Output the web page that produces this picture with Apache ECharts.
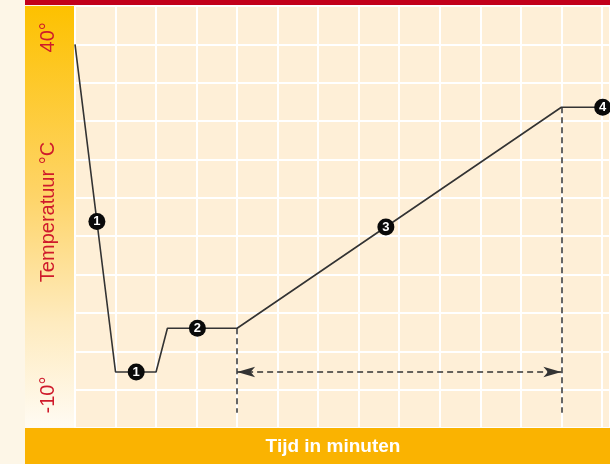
<!DOCTYPE html>
<html>
<head>
<meta charset="utf-8">
<script src="https://cdn.jsdelivr.net/npm/echarts@6/dist/echarts.min.js"></script>
<style>
  html, body { margin: 0; padding: 0; background: #fdf6e7; }
  #chart { width: 610px; height: 464px; }
</style>
</head>
<body>
<div id="chart"></div>
<script>
// Temperature curve (time in minutes, temperature in °C)
const curveTime = [0, 1, 2, 2.28, 4, 12, 13.2];
const curveTemp = [40, -2.7, -2.7, 3, 3, 31.8, 31.8];

// Numbered step markers along the curve
const stepNames = ['1', '1', '2', '3', '4'];
const stepTime = [0.54, 1.51, 3.02, 7.67, 13.02];
const stepTemp = [16.9, -2.7, 3, 16.2, 31.8];

// Dashed guides marking the heating phase and its duration arrow
const guideTime = [4, 12];
const guideTop = [3, 31.8];
const guideBottom = -8;
const arrowTemp = -2.7;

// Axis texts
const yTickValues = [40, -10];
const yTickLabels = ['40°', '-10°'];
const yAxisTitle = 'Temperatuur °C';
const xAxisTitle = 'Tijd in minuten';

const FONT = "'Liberation Sans', Arial, Helvetica, sans-serif";
const RED = '#cf1a2b';
const INK = '#333333';

const chart = echarts.init(document.getElementById('chart'), null, { renderer: 'canvas' });

const curveData = curveTime.map((t, i) => [t, curveTemp[i]]);
const stepData = stepTime.map((t, i) => ({ name: stepNames[i], value: [t, stepTemp[i]] }));

const dashed = { color: INK, width: 1.5, type: [6, 4] };

const option = {
  backgroundColor: '#fdf6e7',
  animation: false,
  grid: {
    left: 75, right: 0, top: 6, bottom: 36,
    show: true, backgroundColor: '#feefd7', borderWidth: 0
  },
  xAxis: {
    type: 'value', min: 0, max: 13.2, interval: 1,
    axisLine: { show: false }, axisTick: { show: false }, axisLabel: { show: false },
    splitLine: { show: true, lineStyle: { color: '#ffffff', width: 2 } }
  },
  yAxis: {
    type: 'value', min: -10, max: 45, interval: 5,
    axisLine: { show: false }, axisTick: { show: false }, axisLabel: { show: false },
    splitLine: { show: true, lineStyle: { color: '#ffffff', width: 2 } }
  },
  series: [
    {
      type: 'line',
      data: curveData,
      showSymbol: false,
      lineStyle: { color: INK, width: 1.6 },
      z: 3,
      markLine: {
        silent: true,
        symbol: 'none',
        label: { show: false },
        lineStyle: dashed,
        data: guideTime.map((t, i) => [
          { coord: [t, guideTop[i]] },
          { coord: [t, guideBottom] }
        ])
      }
    },
    {
      type: 'line',
      data: [],
      markLine: {
        silent: true,
        symbol: ['arrow', 'arrow'],
        symbolSize: [8, 18],
        label: { show: false },
        lineStyle: dashed,
        itemStyle: { color: '#111' },
        data: [[
          { coord: [guideTime[0], arrowTemp] },
          { coord: [guideTime[1], arrowTemp] }
        ]]
      }
    },
    {
      type: 'scatter',
      data: stepData,
      symbol: 'circle',
      symbolSize: 17,
      itemStyle: { color: '#0a0a0a', opacity: 1 },
      z: 5,
      label: {
        show: true, position: 'inside',
        formatter: p => p.name,
        color: '#ffffff', fontFamily: FONT, fontWeight: 'bold', fontSize: 13
      }
    }
  ]
};

chart.setOption(option);

// Frame bands and axis texts, placed against the chart's own scale
const toY = v => chart.convertToPixel({ yAxisIndex: 0 }, v);
const tickShift = [-7, -33];
const graphics = [
  { type: 'rect', shape: { x: 25, y: 0, width: 585, height: 5 }, style: { fill: '#c2001b' }, z: 10 },
  {
    type: 'rect', shape: { x: 25, y: 6, width: 49, height: 422 }, z: 10,
    style: {
      fill: new echarts.graphic.LinearGradient(0, 0, 0, 1, [
        { offset: 0, color: '#fdc100' },
        { offset: 0.45, color: '#fed468' },
        { offset: 0.75, color: '#feebbf' },
        { offset: 1, color: '#fffbf3' }
      ])
    }
  },
  { type: 'rect', shape: { x: 25, y: 428, width: 585, height: 36 }, style: { fill: '#fab301' }, z: 10 },
  {
    type: 'text', x: 333, y: 447, z: 11,
    style: { text: xAxisTitle, fill: '#ffffff', font: 'bold 19px ' + FONT, align: 'center', verticalAlign: 'middle' }
  },
  {
    type: 'text', x: 48, y: 212, rotation: Math.PI / 2, z: 11,
    style: { text: yAxisTitle, fill: RED, font: '20px ' + FONT, align: 'center', verticalAlign: 'middle' }
  }
];
yTickValues.forEach((v, i) => {
  graphics.push({
    type: 'text', x: 48, y: toY(v) + tickShift[i], rotation: Math.PI / 2, z: 11,
    style: { text: yTickLabels[i], fill: RED, font: '20px ' + FONT, align: 'center', verticalAlign: 'middle' }
  });
});
chart.setOption({ graphic: graphics });
</script>
</body>
</html>
